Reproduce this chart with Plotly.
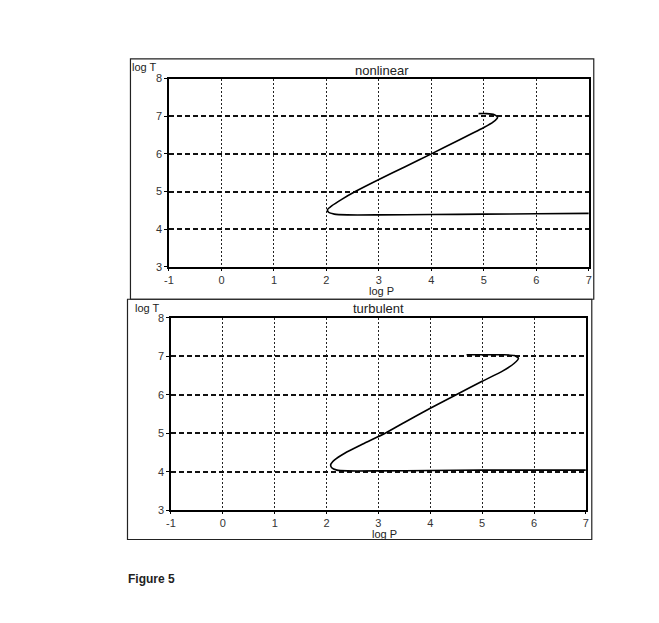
import plotly.graph_objects as go

W, H = 659, 623

# ---- data ----
nonlinear_logP = [7.0, 6.0, 5.0, 4.0, 3.0, 2.4, 2.15, 2.04, 2.02, 2.1, 2.3, 2.55, 3.0, 3.5, 4.0, 4.5, 5.0, 5.18, 5.26, 5.2, 5.05, 4.9]
nonlinear_logT = [4.42, 4.41, 4.40, 4.39, 4.38, 4.38, 4.40, 4.45, 4.52, 4.62, 4.80, 5.00, 5.32, 5.66, 6.00, 6.35, 6.70, 6.85, 6.97, 7.04, 7.07, 7.07]

turbulent_logP = [7.0, 6.0, 5.0, 4.0, 3.0, 2.4, 2.2, 2.1, 2.08, 2.15, 2.35, 2.7, 3.13, 3.5, 4.0, 4.5, 5.0, 5.4, 5.62, 5.70, 5.62, 5.4, 5.0, 4.7]
turbulent_logT = [4.04, 4.04, 4.04, 4.03, 4.02, 4.02, 4.04, 4.10, 4.18, 4.30, 4.48, 4.72, 5.00, 5.28, 5.65, 6.00, 6.35, 6.62, 6.82, 6.95, 7.02, 7.04, 7.04, 7.04]

x_ticks = [-1, 0, 1, 2, 3, 4, 5, 6, 7]
y_ticks = [3, 4, 5, 6, 7, 8]
panel_titles = ["nonlinear", "turbulent"]

FONT = "Liberation Sans, Arial, sans-serif"

def px_x(v):
    return v / W

def px_y(v):
    return 1 - v / H

fig = go.Figure()
fig.add_trace(go.Scatter(x=nonlinear_logP, y=nonlinear_logT, mode="lines", line=dict(color="black", width=1.6, shape="spline", smoothing=0.6), xaxis="x", yaxis="y", showlegend=False))
fig.add_trace(go.Scatter(x=turbulent_logP, y=turbulent_logT, mode="lines", line=dict(color="black", width=1.6, shape="spline", smoothing=0.6), xaxis="x2", yaxis="y2", showlegend=False))

def xaxis(domain, anchor):
    return dict(domain=domain, anchor=anchor, range=[-1, 7], tickvals=x_ticks, ticktext=[str(t) for t in x_ticks],
                showgrid=True, gridcolor="#222", griddash="2px,2px", gridwidth=1.2, zeroline=False,
                showline=True, linecolor="black", linewidth=1.5, mirror=True,
                ticks="outside", ticklen=2, tickcolor="black", tickfont=dict(family=FONT, size=11, color="#333"))

def yaxis(domain, anchor):
    return dict(domain=domain, anchor=anchor, range=[3, 8], tickvals=y_ticks, ticktext=[str(t) for t in y_ticks],
                showgrid=True, gridcolor="#111", griddash="5px,3px", gridwidth=1.6, zeroline=False,
                showline=True, linecolor="black", linewidth=1.5, mirror=True,
                ticks="outside", ticklen=3, tickcolor="black", tickfont=dict(family=FONT, size=11, color="#333"))

top_plot = (166, 74, 591, 266)
bot_plot = (168, 318, 588, 514)

fig.update_layout(
    width=W, height=H, autosize=False,
    margin=dict(l=0, r=0, t=0, b=0),
    paper_bgcolor="white", plot_bgcolor="white",
    xaxis=xaxis([px_x(top_plot[0]), px_x(top_plot[2])], "y"),
    yaxis=yaxis([px_y(top_plot[3]), px_y(top_plot[1])], "x"),
    xaxis2=xaxis([px_x(bot_plot[0]), px_x(bot_plot[2])], "y2"),
    yaxis2=yaxis([px_y(bot_plot[3]), px_y(bot_plot[1])], "x2"),
)

# outer panel frames
frames = [(127, 54, 596, 299), (124, 299, 594, 544)]
for (x0, y0, x1, y1) in frames:
    fig.add_shape(type="rect", xref="paper", yref="paper", x0=px_x(x0), x1=px_x(x1), y0=px_y(y1), y1=px_y(y0),
                  line=dict(color="#222", width=1.2), fillcolor="rgba(0,0,0,0)", layer="below")

def text(x, y, s, size=11, bold=False, xanchor="center"):
    fig.add_annotation(xref="paper", yref="paper", x=px_x(x), y=px_y(y), text=("<b>%s</b>" % s) if bold else s,
                       showarrow=False, xanchor=xanchor, yanchor="middle",
                       font=dict(family=FONT, size=size, color="#222"))

text(382, 66, panel_titles[0], size=13)
text(378, 308, panel_titles[1], size=13)
text(141, 62, "log T", size=11)
text(144, 308, "log T", size=11)
text(381, 291, "log P", size=11)
text(384, 538, "log P", size=11)
text(122, 584, "Figure 5", size=12, bold=True, xanchor="left")

fig.write_html("out.html", config={"displayModeBar": False},
               post_script="document.body.style.margin='0px';document.body.style.overflow='hidden';")
